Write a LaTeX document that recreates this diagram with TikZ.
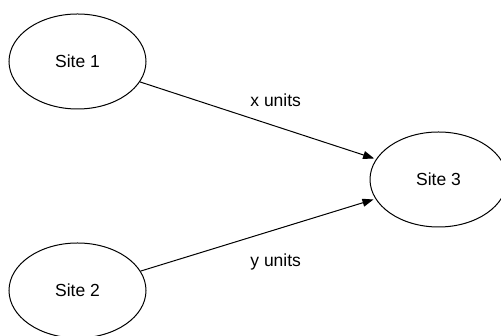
\documentclass[tikz,border=0pt]{standalone}
\usepackage{fontspec}
\setmainfont{Liberation Sans}
\usetikzlibrary{shapes.geometric,arrows.meta}
\begin{document}
\begin{tikzpicture}[x=1pt,y=1pt,
  site/.style={ellipse,draw,line width=1pt,minimum width=137pt,minimum height=95pt,inner sep=0pt,font=\fontsize{17.5}{21}\selectfont},
  lbl/.style={font=\fontsize{17.5}{21}\selectfont},
  conn/.style={line width=1pt,-{Triangle[length=11pt,width=8pt]},shorten >=2pt}]
\useasboundingbox (0,0) rectangle (501,336);
\node[site] (s1) at (77.5,274.5) {Site 1};
\node[site] (s2) at (77.5,45.5) {Site 2};
\node[site] (s3) at (438.5,156.5) {Site 3};
\draw[conn] (s1) -- (s3);
\draw[conn] (s2) -- (s3);
\node[lbl] (lx) at (275.7,236) {x units};
\node[lbl] (ly) at (275.7,74.3) {y units};
\end{tikzpicture}
\end{document}
